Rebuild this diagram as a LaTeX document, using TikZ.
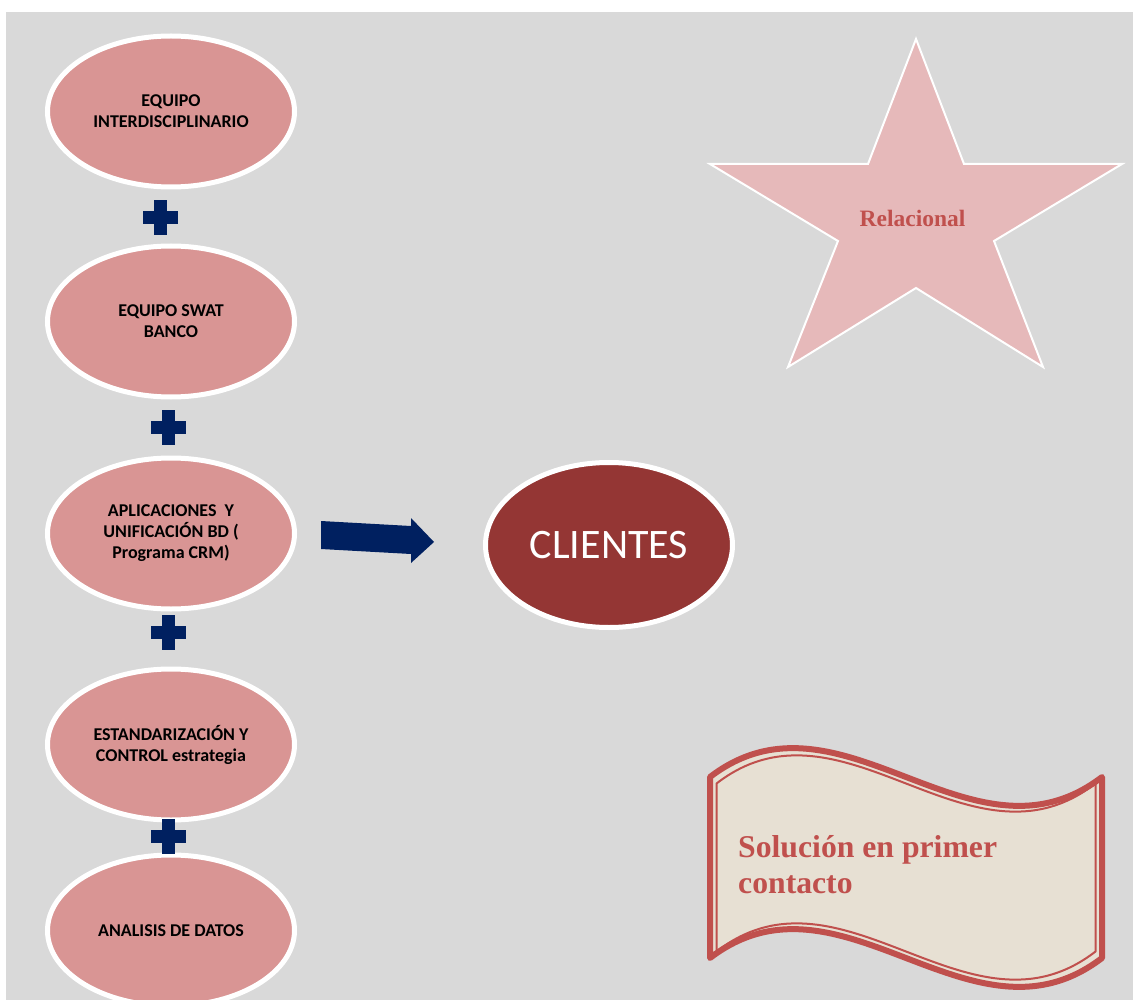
\documentclass[tikz,border=0pt]{standalone}
\usepackage{fontspec}
\setmainfont{Carlito}
\newfontfamily\timesfont{Liberation Serif}
\usetikzlibrary{shapes.geometric}
\definecolor{bggray}{RGB}{217,217,217}
\definecolor{pinkfill}{RGB}{217,149,148}
\definecolor{darkred}{RGB}{148,54,52}
\definecolor{navyblue}{RGB}{0,32,96}
\definecolor{starpink}{RGB}{230,185,186}
\definecolor{accentred}{RGB}{192,80,77}
\definecolor{parch}{RGB}{231,224,211}
\begin{document}
\begin{tikzpicture}[x=1pt,y=-1pt,
  flowoval/.style={ellipse, fill=pinkfill, draw=white, line width=5pt,
    minimum width=247pt, minimum height=151pt, inner sep=0pt, align=center,
    font=\fontsize{18}{21}\selectfont\bfseries},
  clientoval/.style={ellipse, fill=darkred, draw=white, line width=5pt,
    minimum width=247pt, minimum height=165pt, inner sep=0pt,
    text=white, font=\fontsize{42}{50}\selectfont},
  plussign/.pic={
    \fill[navyblue] (-17.5,-6.5) rectangle (17.5,6.5);
    \fill[navyblue] (-6.5,-17.5) rectangle (6.5,17.5);
  },
  redserif/.style={text=accentred, inner sep=0pt}
]
\useasboundingbox (0,0) rectangle (1133,1000);
\fill[white] (0,0) rectangle (1133,1000);
\fill[bggray] (6,12) rectangle (1133,1000);

% left column
\node[flowoval] (equipo) at (171,111.5) {EQUIPO\\INTERDISCIPLINARIO};
\node[flowoval] (swat) at (171,321.5) {EQUIPO SWAT\\BANCO};
\node[flowoval] (aplic) at (171,533.5) {APLICACIONES\ \ Y\\UNIFICACIÓN BD (\\Programa CRM)};
\node[flowoval] (estand) at (171,744.5) {ESTANDARIZACIÓN Y\\CONTROL estrategia};
\node[flowoval] (analisis) at (171,930.5) {ANALISIS DE DATOS};

\pic (p1) at (160.5,217.5) {plussign};
\pic (p2) at (168,427.5) {plussign};
\pic (p3) at (168,632) {plussign};
\pic (p4) at (168,836.5) {plussign};

% block arrow
\fill[navyblue] (321,521) -- (411,526) -- (411,518) -- (434,542) -- (411,563)
  -- (411,554) -- (321,549) -- cycle;

% clients
\node[clientoval] (clientes) at (609,545) {CLIENTES};

% star
\filldraw[fill=starpink, draw=white, line width=2pt, line join=miter]
  (916,39) -- (964,164) -- (1122,164) -- (994,241) -- (1043,367) -- (916,288)
  -- (788,367) -- (838,241) -- (710,164) -- (868,164) -- cycle;
\node[redserif, font=\timesfont\bfseries\fontsize{23.5}{28}\selectfont] (relacional) at (912.5,218) {Relacional};

% wave banner
\filldraw[fill=parch, draw=accentred, line width=6pt, line join=round]
  (710,777) .. controls (840.7,677) and (971.3,877) .. (1102,777)
  -- (1102,958) .. controls (971.3,1058) and (840.7,858) .. (710,958) -- cycle;
\draw[accentred, line width=2pt, line join=round]
  (716.5,783.5) .. controls (842.8,686) and (969.2,881) .. (1095.5,783.5)
  -- (1095.5,951.5) .. controls (969.2,1049) and (842.8,854) .. (716.5,951.5) -- cycle;
\node[redserif, anchor=base west, align=left,
  font=\timesfont\bfseries\fontsize{31.7}{36}\selectfont] (solucion) at (738,893)
  {Solución en primer\\contacto};
\end{tikzpicture}
\end{document}
